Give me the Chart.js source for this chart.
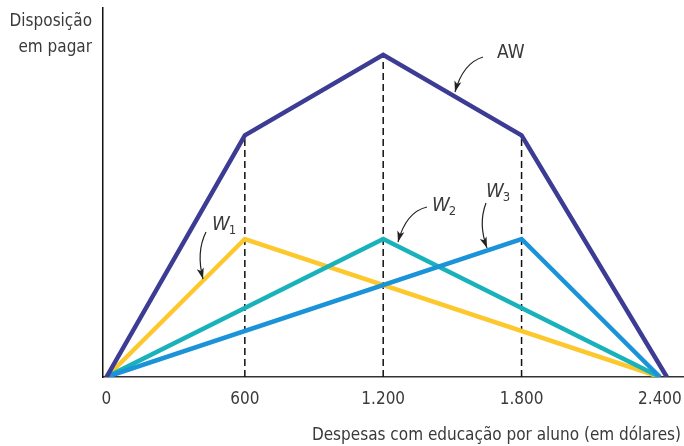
<!DOCTYPE html>
<html>
<head>
<meta charset="utf-8">
<script src="https://cdn.jsdelivr.net/npm/chart.js@4.4.0/dist/chart.umd.min.js"></script>
<style>
  body { margin: 0; background: #fff; }
  #wrap { width: 684px; height: 446px; position: relative; }
</style>
</head>
<body>
<div id="wrap"><canvas id="myChart"></canvas></div>
<script>
// tick positions on the x axis (dollars per pupil)
var xTicks = [0, 600, 1200, 1800, 2400];

// aggregate willingness to pay
var awX = [0, 600, 1200, 1800, 2430];
var awY = [0, 6.55, 8.73, 6.55, 0];

// individual curves
var w1X = [0, 600, 2400];
var w1Y = [0, 3.74, 0];
var w2X = [0, 1200, 2400];
var w2Y = [0, 3.74, 0];
var w3X = [0, 1800, 2400];
var w3Y = [0, 3.74, 0];

var FONT = '"Liberation Sans Narrow", "DejaVu Sans Condensed", "Roboto", sans-serif';
var TEXT = "#3a3a3a";

function pts(xs, ys) {
  var out = [];
  for (var i = 0; i < xs.length; i++) {
    out.push({ x: xs[i], y: ys[i] });
  }
  return out;
}

// dashed drop lines from the axis up to AW
var dropSets = [];
for (var i = 1; i < 4; i++) {
  dropSets.push({
    data: [{ x: awX[i], y: 0 }, { x: awX[i], y: awY[i] }],
    borderColor: "#111",
    borderWidth: 1.5,
    borderDash: [7, 4],
    pointRadius: 0,
    order: 10
  });
}

function arrow(ctx, x0, y0, cx, cy, x1, y1) {
  ctx.beginPath();
  ctx.moveTo(x0, y0);
  ctx.quadraticCurveTo(cx, cy, x1, y1);
  ctx.stroke();
  var a = Math.atan2(y1 - cy, x1 - cx);
  var len = 11, half = 3.6;
  ctx.beginPath();
  ctx.moveTo(x1, y1);
  ctx.lineTo(x1 - len * Math.cos(a) + half * Math.sin(a), y1 - len * Math.sin(a) - half * Math.cos(a));
  ctx.lineTo(x1 - len * 0.75 * Math.cos(a), y1 - len * 0.75 * Math.sin(a));
  ctx.lineTo(x1 - len * Math.cos(a) - half * Math.sin(a), y1 - len * Math.sin(a) + half * Math.cos(a));
  ctx.closePath();
  ctx.fill();
}

function wLabel(ctx, x, y, sub) {
  ctx.font = "italic 20px " + FONT;
  ctx.textAlign = "left";
  ctx.fillText("W", x, y);
  var w = ctx.measureText("W").width;
  ctx.font = "13px " + FONT;
  ctx.fillText(sub, x + w - 1, y + 4);
}

var labels = {
  id: "labels",
  afterDraw: function (chart) {
    var ctx = chart.ctx;
    ctx.save();
    ctx.fillStyle = TEXT;
    ctx.textBaseline = "alphabetic";
    ctx.font = "17px " + FONT;
    ctx.textAlign = "right";
    ctx.fillText("Disposição", 92, 26);
    ctx.fillText("em pagar", 92, 52);
    ctx.font = "17px " + FONT;
    ctx.fillText("Despesas com educação por aluno (em dólares)", 681, 440);

    ctx.font = "19px " + FONT;
    ctx.textAlign = "left";
    ctx.fillText("AW", 497, 58);
    wLabel(ctx, 212, 230, "1");
    wLabel(ctx, 432, 211, "2");
    wLabel(ctx, 486, 197, "3");

    ctx.strokeStyle = "#222";
    ctx.fillStyle = "#222";
    ctx.lineWidth = 1.2;
    arrow(ctx, 483, 57, 463, 63, 455, 92);
    arrow(ctx, 427, 207, 406, 212, 398, 242);
    arrow(ctx, 206, 232, 196, 252, 203, 279);
    arrow(ctx, 486, 203, 478, 224, 487, 248);
    ctx.restore();
  }
};

var ctx = document.getElementById("myChart");
var myChart = new Chart(ctx, {
  type: "line",
  data: {
    datasets: [
      {
        label: "AW",
        data: pts(awX, awY),
        borderColor: "#3c3c94",
        borderWidth: 4.5,
        borderJoinStyle: "miter",
        pointRadius: 0,
        order: 1
      },
      {
        label: "W3",
        data: pts(w3X, w3Y),
        borderColor: "#1b93d9",
        borderWidth: 4.5,
        borderJoinStyle: "miter",
        pointRadius: 0,
        order: 2
      },
      {
        label: "W2",
        data: pts(w2X, w2Y),
        borderColor: "#19b2bb",
        borderWidth: 4.5,
        borderJoinStyle: "miter",
        pointRadius: 0,
        order: 3
      },
      {
        label: "W1",
        data: pts(w1X, w1Y),
        borderColor: "#fdc82e",
        borderWidth: 4.5,
        borderJoinStyle: "miter",
        pointRadius: 0,
        order: 4
      }
    ].concat(dropSets)
  },
  options: {
    responsive: true,
    maintainAspectRatio: false,
    animation: false,
    events: [],
    layout: { padding: { left: 103, top: 8, right: 1, bottom: 0 } },
    plugins: {
      legend: { display: false },
      tooltip: { enabled: false }
    },
    scales: {
      x: {
        type: "linear",
        min: -15,
        max: 2500,
        grid: { display: false, drawTicks: false },
        border: { display: true, color: "#333", width: 1.5 },
        afterBuildTicks: function (scale) {
          scale.ticks = xTicks.map(function (v) { return { value: v }; });
        },
        afterFit: function (scale) {
          scale.height = 69;
          scale.paddingLeft = 0;
          scale.paddingRight = 0;
        },
        ticks: {
          padding: 12,
          color: TEXT,
          font: { family: FONT, size: 17 },
          maxRotation: 0,
          callback: function (v) {
            return String(v).replace(/\B(?=(\d{3})+(?!\d))/g, ".");
          }
        }
      },
      y: {
        min: 0,
        max: 10,
        grid: { display: false, drawTicks: false },
        border: { display: true, color: "#111", width: 1.5 },
        ticks: { display: false },
        afterFit: function (scale) {
          scale.width = 0;
          scale.paddingTop = 0;
          scale.paddingBottom = 0;
        }
      }
    }
  },
  plugins: [labels]
});
</script>
</body>
</html>
